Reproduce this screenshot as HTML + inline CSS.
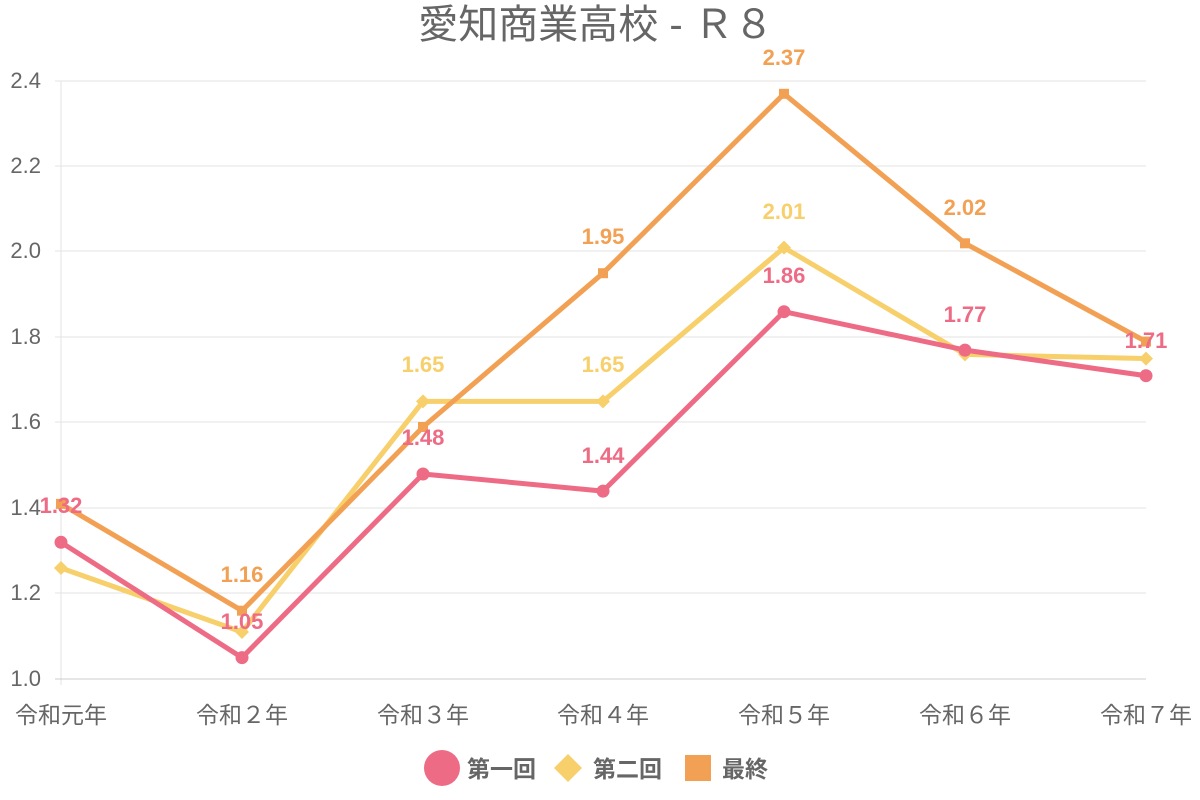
<!DOCTYPE html>
<html><head><meta charset="utf-8"><style>
body{margin:0;background:#fff;}
svg{display:block;font-family:"Liberation Sans","Noto Sans CJK JP",sans-serif;}
</style></head><body>
<svg width="1200" height="800" viewBox="0 0 1200 800">
<text x="596" y="38" text-anchor="middle" font-size="40" fill="#666">愛知商業高校 - Ｒ８</text>
<g stroke="#e3e3e3" stroke-width="1">
<line x1="55" x2="1146" y1="81" y2="81"/><line x1="55" x2="1146" y1="166" y2="166"/>
<line x1="55" x2="1146" y1="251" y2="251"/><line x1="55" x2="1146" y1="337" y2="337"/>
<line x1="55" x2="1146" y1="422" y2="422"/><line x1="55" x2="1146" y1="508" y2="508"/>
<line x1="55" x2="1146" y1="593" y2="593"/>
<line x1="61" x2="61" y1="81" y2="685"/>
</g>
<line x1="55" x2="1146" y1="679" y2="679" stroke="#ccc"/>
<g font-size="22" fill="#666" text-anchor="end">
<text x="41" y="88">2.4</text><text x="41" y="173">2.2</text><text x="41" y="258">2.0</text>
<text x="41" y="344">1.8</text><text x="41" y="429">1.6</text><text x="41" y="515">1.4</text>
<text x="41" y="600">1.2</text><text x="41" y="686">1.0</text>
</g>
<g font-size="23" fill="#666" text-anchor="middle">
<text x="61" y="723">令和元年</text><text x="242" y="723">令和２年</text><text x="423" y="723">令和３年</text>
<text x="603" y="723">令和４年</text><text x="784" y="723">令和５年</text><text x="965" y="723">令和６年</text>
<text x="1146" y="723">令和７年</text>
</g>
<g fill="none" stroke-width="5" stroke-linejoin="round">
<polyline stroke="#f7cf6b" points="61,568 242,632 423,401.4 603,401.4 784,247.6 965,354.4 1146,358.6"/>
<polyline stroke="#f2a154" points="61,503.9 242,610.7 423,427 603,273.2 784,93.8 965,243.3 1146,341.6"/>
<polyline stroke="#ee6b85" points="61,542.3 242,657.6 423,474 603,491.1 784,311.7 965,350.1 1146,375.7"/>
</g>
<g fill="#f7cf6b">
<polygon points="61,561 68,568 61,575 54,568"/><polygon points="242,625 249,632 242,639 235,632"/>
<polygon points="423,394.4 430,401.4 423,408.4 416,401.4"/><polygon points="603,394.4 610,401.4 603,408.4 596,401.4"/>
<polygon points="784,240.6 791,247.6 784,254.6 777,247.6"/><polygon points="965,347.4 972,354.4 965,361.4 958,354.4"/>
<polygon points="1146,351.6 1153,358.6 1146,365.6 1139,358.6"/>
</g>
<g fill="#f2a154">
<rect x="56" y="498.9" width="10" height="10"/><rect x="237" y="605.7" width="10" height="10"/>
<rect x="418" y="422" width="10" height="10"/><rect x="598" y="268.2" width="10" height="10"/>
<rect x="779" y="88.8" width="10" height="10"/><rect x="960" y="238.3" width="10" height="10"/>
<rect x="1141" y="336.6" width="10" height="10"/>
</g>
<g fill="#ee6b85">
<circle cx="61" cy="542.3" r="6.5"/><circle cx="242" cy="657.6" r="6.5"/><circle cx="423" cy="474" r="6.5"/>
<circle cx="603" cy="491.1" r="6.5"/><circle cx="784" cy="311.7" r="6.5"/><circle cx="965" cy="350.1" r="6.5"/>
<circle cx="1146" cy="375.7" r="6.5"/>
</g>
<g font-size="22" font-weight="bold" text-anchor="middle">
<g fill="#f7cf6b"><text x="423" y="372">1.65</text><text x="603" y="372">1.65</text><text x="784" y="219">2.01</text></g>
<g fill="#f2a154"><text x="242" y="582">1.16</text><text x="603" y="244">1.95</text><text x="784" y="65">2.37</text><text x="965" y="215">2.02</text></g>
<g fill="#ee6b85"><text x="61" y="513">1.32</text><text x="242" y="629">1.05</text><text x="423" y="445">1.48</text>
<text x="603" y="463">1.44</text><text x="784" y="283">1.86</text><text x="965" y="322">1.77</text><text x="1146" y="348">1.71</text></g>
</g>
<circle cx="442" cy="768" r="18" fill="#ee6b85"/>
<polygon points="568,754 582,768 568,782 554,768" fill="#f7cf6b"/>
<rect x="685" y="755" width="26" height="26" fill="#f2a154"/>
<g font-size="23" font-weight="bold" fill="#666">
<text x="467" y="777">第一回</text><text x="593" y="777">第二回</text><text x="722" y="777">最終</text>
</g>
</svg>
</body></html>
